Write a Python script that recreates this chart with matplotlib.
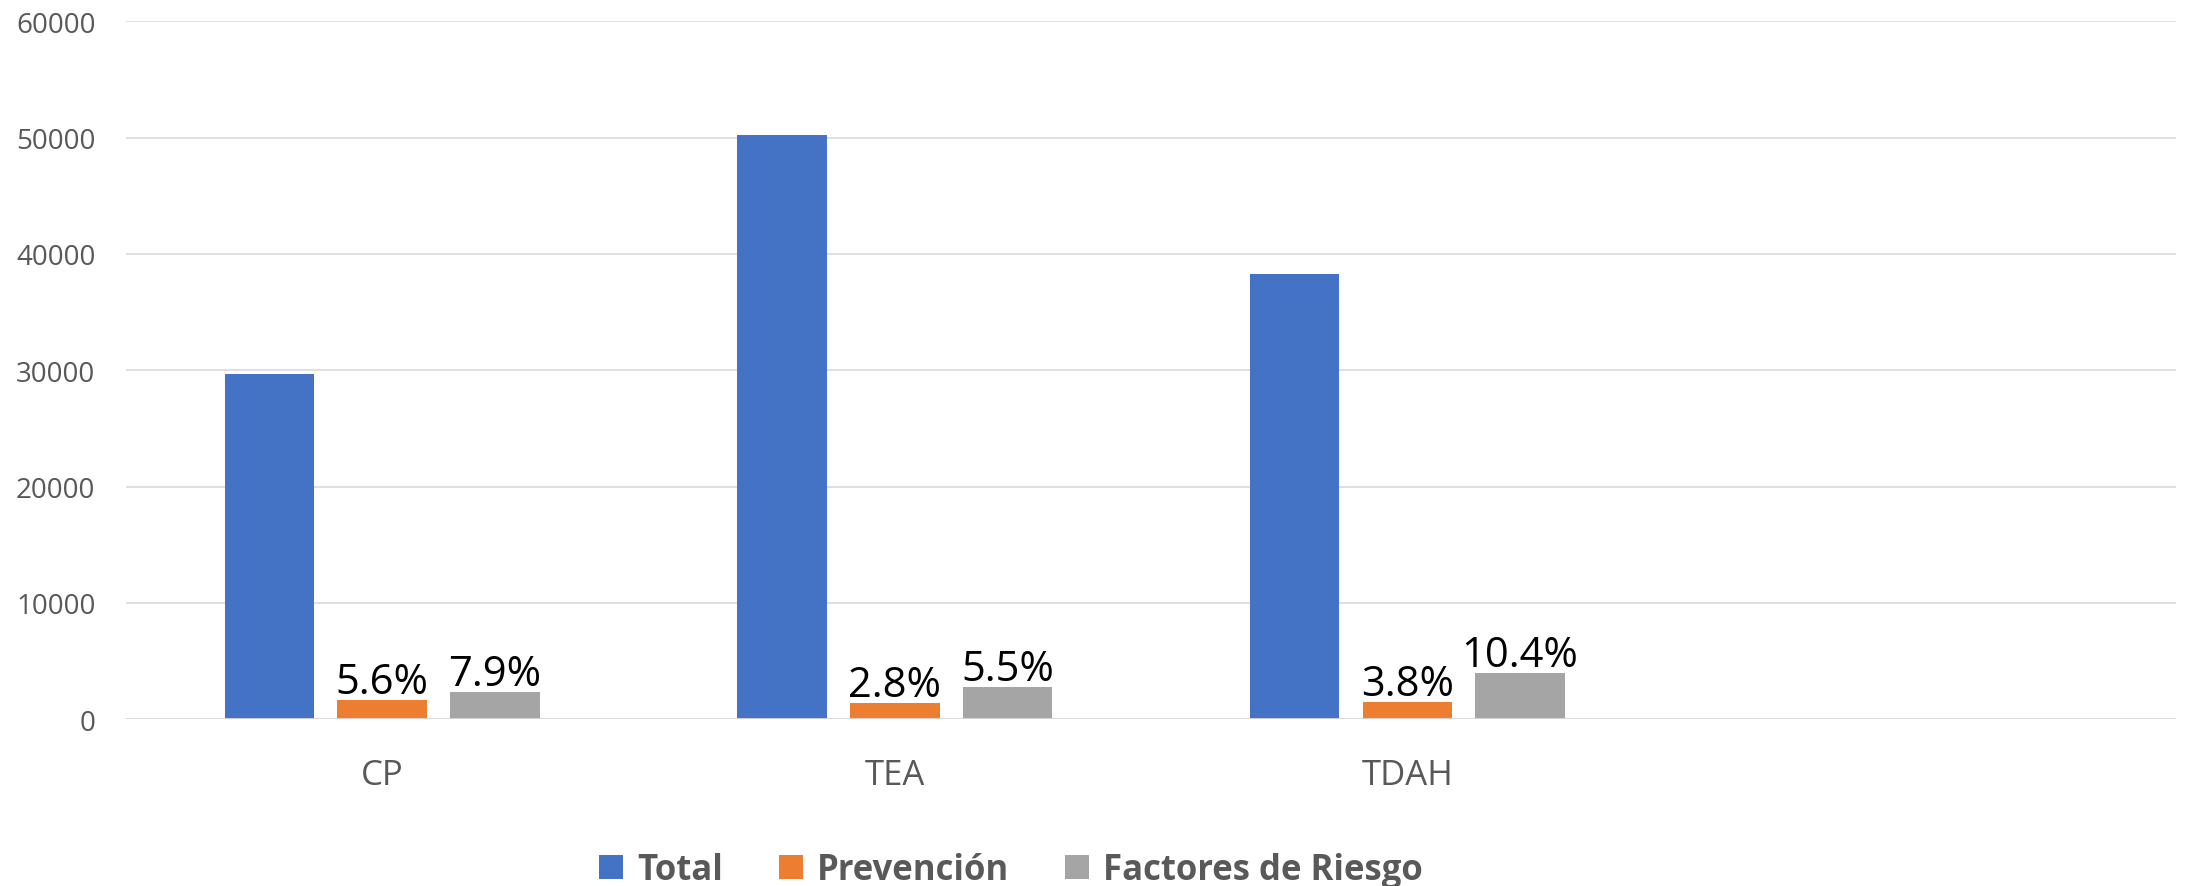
import numpy as np
from matplotlib import pyplot as plt

# data
categories = ['CP', 'TEA', 'TDAH', '']
total = [29700, 50200, 38300]
prevencion = [1660, 1410, 1460]
factores = [2350, 2760, 3980]
prev_labels = ['5.6%', '2.8%', '3.8%']
fact_labels = ['7.9%', '5.5%', '10.4%']
yticks = [0, 10000, 20000, 30000, 40000, 50000, 60000]

plt.rcParams['font.family'] = ['Open Sans', 'DejaVu Sans']

fig = plt.figure(figsize=(21.88, 8.87), dpi=100)
ax = fig.add_axes([0.0576, 0.188, 0.937, 0.787])

x = np.arange(len(total))
w = 0.175
off = 0.22

ax.bar(x - off, total, w, color='#4472C4', label='Total', zorder=3)
b2 = ax.bar(x, prevencion, w, color='#ED7D31', label='Prevención', zorder=3)
b3 = ax.bar(x + off, factores, w, color='#A5A5A5', label='Factores de Riesgo', zorder=3)

ax.bar_label(b2, labels=prev_labels, padding=-2, fontsize=30, color='black')
ax.bar_label(b3, labels=fact_labels, padding=-2, fontsize=30, color='black')

ax.set_xlim(-0.5, 3.5)
ax.set_ylim(0, 60000)
ax.set_xticks(range(len(categories)))
ax.set_xticklabels(categories)
ax.set_yticks(yticks)
ax.tick_params(axis='x', length=0, pad=28, labelsize=25, labelcolor='#595959')
ax.tick_params(axis='y', length=0, pad=22, labelsize=20, labelcolor='#595959')

ax.grid(axis='y', color='#d9d9d9', linewidth=1.2, zorder=0)
for s in ax.spines.values():
    s.set_visible(False)
ax.axhline(0, color='#d9d9d9', linewidth=2, zorder=4)

leg = fig.legend(loc='center', bbox_to_anchor=(0.462, 0.018), ncol=3, frameon=False,
                 prop={'size': 25, 'weight': 'bold'}, handlelength=0.7, handleheight=0.7,
                 handletextpad=0.4, columnspacing=1.6)
for t in leg.get_texts():
    t.set_color('#595959')

plt.savefig('out.png', dpi=100)
